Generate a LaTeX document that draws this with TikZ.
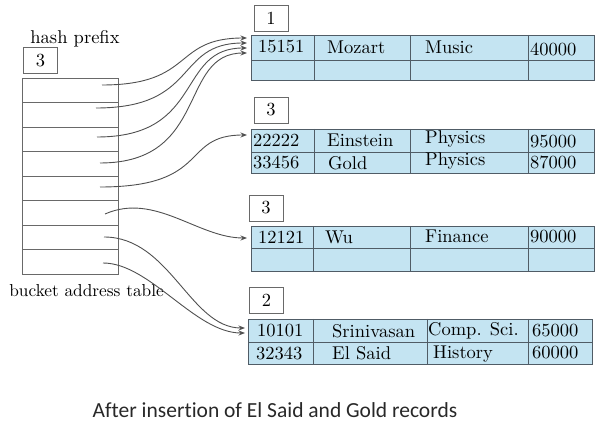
\documentclass[tikz,border=0pt]{standalone}
\usepackage{fontspec}
\newfontfamily\capfont{Carlito}[Ligatures=CommonOff]
\newfontfamily\cellfont{lmroman10-regular}[Extension=.otf]
\usetikzlibrary{arrows.meta}
\definecolor{cellfill}{RGB}{196,228,242}
\definecolor{cellline}{RGB}{80,92,102}
\definecolor{arrcol}{RGB}{80,80,80}
\definecolor{boxcol}{RGB}{105,105,105}
\definecolor{capcol}{RGB}{40,40,40}
\newcommand{\fs}{\cellfont\fontsize{18.5}{20}\selectfont}
\tikzset{
  tbl/.style={draw=cellline, fill=cellfill, line width=0.9pt, inner sep=0pt, anchor=north west},
  divline/.style={draw=cellline, line width=0.9pt},
  lbl/.style={draw=boxcol, line width=0.9pt, minimum width=34pt, minimum height=26pt, inner sep=0pt, font=\fs},
  txt/.style={anchor=west, inner sep=0pt, font=\fs},
  ptr/.style={draw=arrcol, line width=0.9pt, -{Stealth[length=6.5pt,width=5pt]}},
  bat/.style={draw=boxcol, line width=0.9pt},
}
\begin{document}
\begin{tikzpicture}[x=1pt,y=-1pt]
\useasboundingbox (0,0) rectangle (603,427);

% ---------- bucket address table ----------
\node[txt, anchor=center] (hp) at (75,39) {hash prefix};
\node[lbl] (gd) at (40.5,60.5) {3};
\node[bat, anchor=north west, minimum width=96pt, minimum height=196pt, inner sep=0pt] (bat) at (22,78) {};
\foreach \k in {1,...,7} {
  \draw[bat] (22,78+\k*24.5) -- (118,78+\k*24.5);
}
\node[txt, anchor=east, font=\cellfont\fontsize{17.3}{19}\selectfont] (batl) at (164,291) {bucket address table};

% ---------- bucket 1 ----------
\node[lbl] (l1) at (271,18) {1};
\node[tbl, minimum width=343pt, minimum height=45pt] (t1) at (251,35) {};
\draw[divline] (251,60) -- (594,60);
\foreach \x in {314,410,528} \draw[divline] (\x,35) -- (\x,80);
\node[txt] (c11) at (258,47) {15151};
\node[txt] (c12) at (327,47) {Mozart};
\node[txt] (c13) at (425,47) {Music};
\node[txt] (c14) at (530,49) {40000};

% ---------- bucket 2 (Einstein) ----------
\node[lbl] (l2) at (271,110) {3};
\node[tbl, minimum width=343pt, minimum height=44pt] (t2) at (251,129) {};
\draw[divline] (251,152) -- (594,152);
\foreach \x in {314,410,528} \draw[divline] (\x,129) -- (\x,173);
\node[txt] (c21) at (253,140) {22222};
\node[txt] (c22) at (327,140) {Einstein};
\node[txt] (c23) at (425,139) {Physics};
\node[txt] (c24) at (530,142) {95000};
\node[txt] (c25) at (253,162) {33456};
\node[txt] (c26) at (328,163) {Gold};
\node[txt] (c27) at (425,161) {Physics};
\node[txt] (c28) at (530,162) {87000};

% ---------- bucket 3 (Wu) ----------
\node[lbl] (l3) at (266,208) {3};
\node[tbl, minimum width=343pt, minimum height=45pt] (t3) at (251,226) {};
\draw[divline] (251,248) -- (594,248);
\foreach \x in {313,410,528} \draw[divline] (\x,226) -- (\x,271);
\node[txt] (c31) at (258,237) {12121};
\node[txt] (c32) at (325,237) {Wu};
\node[txt] (c33) at (425,236) {Finance};
\node[txt] (c34) at (530,237) {90000};

% ---------- bucket 4 ----------
\node[lbl] (l4) at (266.5,300.5) {2};
\node[tbl, minimum width=344pt, minimum height=45pt] (t4) at (248,319) {};
\draw[divline] (248,342) -- (592,342);
\foreach \x in {313,427,528} \draw[divline] (\x,319) -- (\x,364);
\node[txt] (c41) at (257,331) {10101};
\node[txt] (c42) at (332,331) {Srinivasan};
\node[txt] (c43) at (428,331) {Comp. Sci.};
\node[txt] (c44) at (532,331) {65000};
\node[txt] (c45) at (256,353) {32343};
\node[txt] (c46) at (332,353) {El Said};
\node[txt] (c47) at (433,354) {History};
\node[txt] (c48) at (532,353) {60000};

% ---------- pointers ----------
\coordinate (s1) at (102,85);
\coordinate (s2) at (96,108);
\coordinate (s3) at (97,137);
\coordinate (s4) at (100,163);
\coordinate (s5) at (100,187);
\coordinate (s6) at (105,214);
\coordinate (s7) at (104,237);
\coordinate (s8) at (103,263);
\coordinate (e1) at (247,38);
\coordinate (e2) at (247,43);
\coordinate (e3) at (247,48);
\coordinate (e4) at (247,53);
\coordinate (e5) at (247,135);
\coordinate (e6) at (247,238);
\coordinate (e7) at (245,328);
\coordinate (e8) at (245,333);

\draw[ptr] (s1) .. controls (195,85) and (172,38) .. (e1);
\draw[ptr] (s2) .. controls (200,108) and (174,43) .. (e2);
\draw[ptr] (s3) .. controls (205,137) and (176,48) .. (e3);
\draw[ptr] (s4) .. controls (210,163) and (178,53) .. (e4);
\draw[ptr] (s5) .. controls (212,187) and (180,135) .. (e5);
\draw[ptr] (s6) .. controls (155,192) and (198,238) .. (e6);
\draw[ptr] (s7) .. controls (170,237) and (190,328) .. (e7);
\draw[ptr] (s8) .. controls (150,263) and (195,333) .. (e8);

% ---------- caption ----------
\node[inner sep=0pt, font=\capfont\fontsize{21.5}{24}\selectfont, text=capcol] (cap) at (275,410) {After insertion of El Said and Gold records};
\end{tikzpicture}
\end{document}
